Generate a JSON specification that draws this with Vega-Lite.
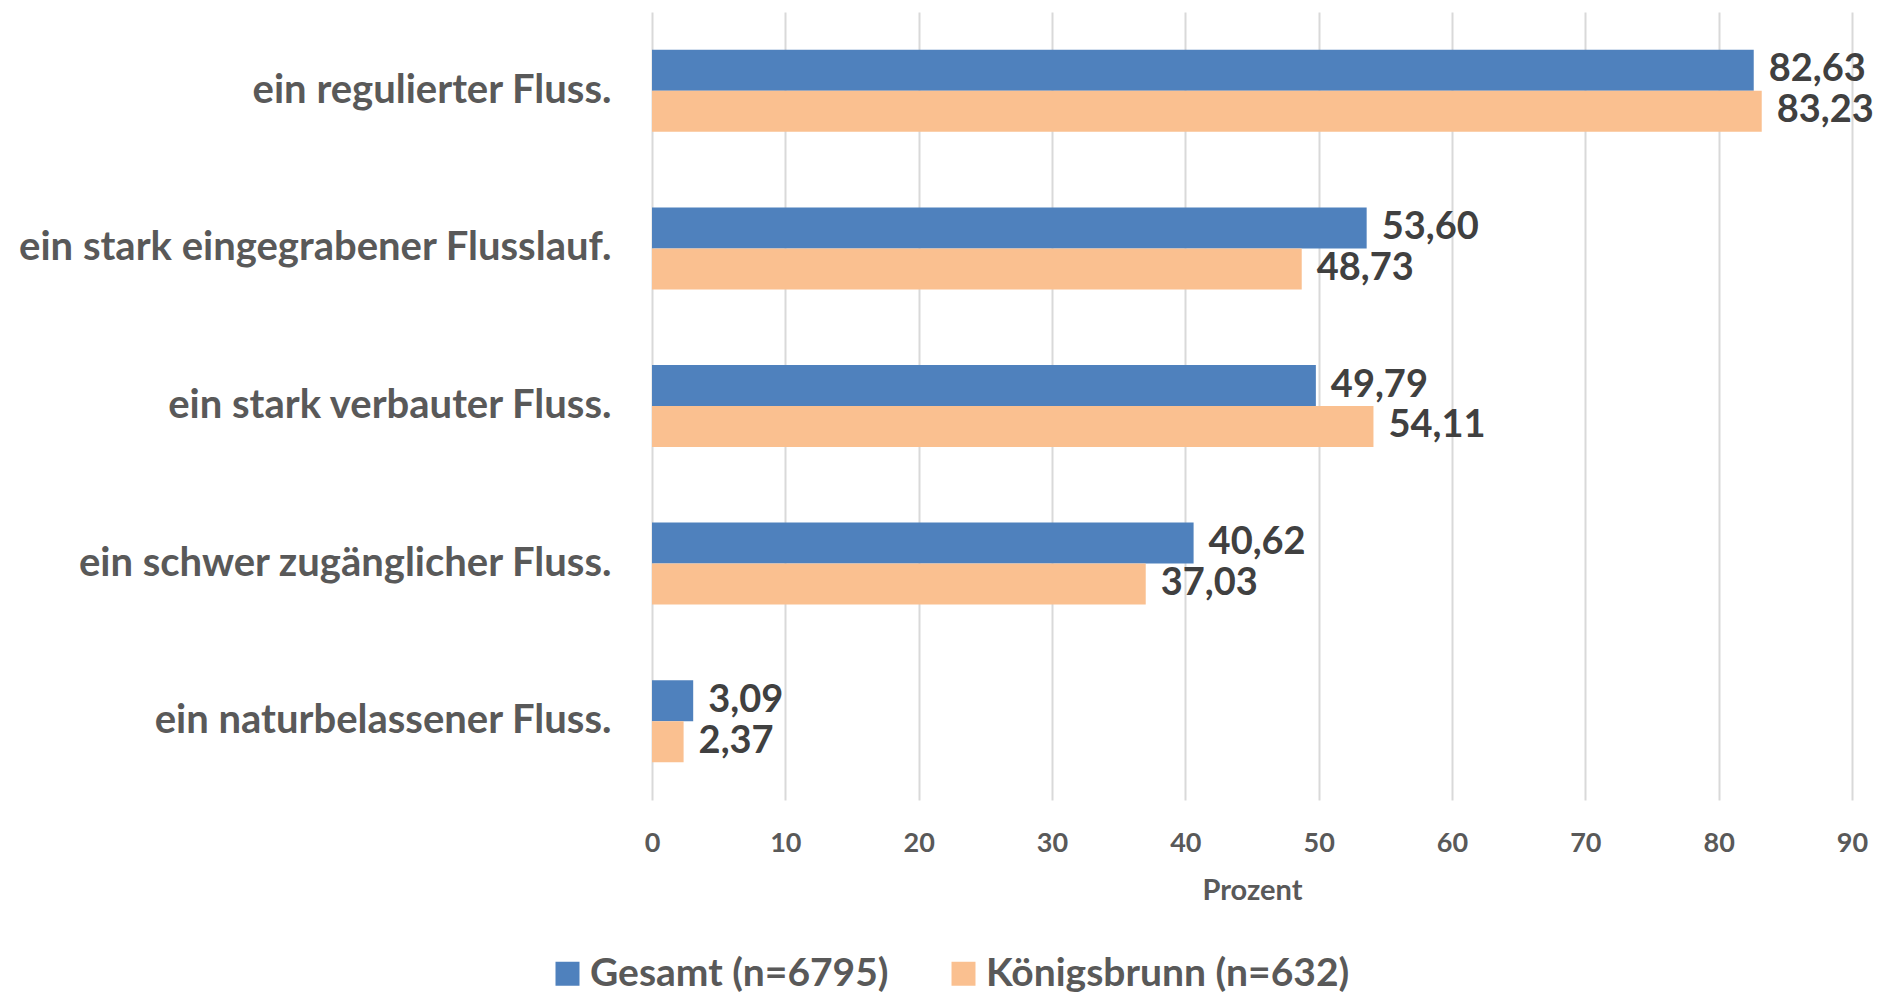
{
  "$schema": "https://vega.github.io/schema/vega-lite/v6.json",
  "width": 1200,
  "height": 788,
  "autosize": {"type": "none"},
  "padding": {"left": 652, "top": 12, "right": 36, "bottom": 196},
  "background": "white",
  "config": {
    "view": {"stroke": null},
    "font": "Lato",
    "locale": {"number": {"decimal": ",", "thousands": ".", "grouping": [3], "currency": ["", " €"]}}
  },
  "data": {
    "values": [
      {"kategorie": "ein regulierter Fluss.", "reihe": "Gesamt (n=6795)", "wert": 82.63},
      {"kategorie": "ein regulierter Fluss.", "reihe": "Königsbrunn (n=632)", "wert": 83.23},
      {"kategorie": "ein stark eingegrabener Flusslauf.", "reihe": "Gesamt (n=6795)", "wert": 53.60},
      {"kategorie": "ein stark eingegrabener Flusslauf.", "reihe": "Königsbrunn (n=632)", "wert": 48.73},
      {"kategorie": "ein stark verbauter Fluss.", "reihe": "Gesamt (n=6795)", "wert": 49.79},
      {"kategorie": "ein stark verbauter Fluss.", "reihe": "Königsbrunn (n=632)", "wert": 54.11},
      {"kategorie": "ein schwer zugänglicher Fluss.", "reihe": "Gesamt (n=6795)", "wert": 40.62},
      {"kategorie": "ein schwer zugänglicher Fluss.", "reihe": "Königsbrunn (n=632)", "wert": 37.03},
      {"kategorie": "ein naturbelassener Fluss.", "reihe": "Gesamt (n=6795)", "wert": 3.09},
      {"kategorie": "ein naturbelassener Fluss.", "reihe": "Königsbrunn (n=632)", "wert": 2.37}
    ]
  },
  "encoding": {
    "y": {
      "field": "kategorie",
      "type": "nominal",
      "sort": ["ein regulierter Fluss.", "ein stark eingegrabener Flusslauf.", "ein stark verbauter Fluss.", "ein schwer zugänglicher Fluss.", "ein naturbelassener Fluss."],
      "scale": {"paddingInner": 0.48, "paddingOuter": 0.24},
      "axis": {
        "title": null,
        "domain": false,
        "ticks": false,
        "grid": false,
        "labelFont": "Lato",
        "labelFontSize": 40,
        "labelFontWeight": "bold",
        "labelColor": "#595959",
        "labelPadding": 41,
        "labelLimit": 800
      }
    },
    "yOffset": {
      "field": "reihe",
      "type": "nominal",
      "sort": ["Gesamt (n=6795)", "Königsbrunn (n=632)"],
      "scale": {"paddingInner": 0, "paddingOuter": 0}
    },
    "x": {
      "field": "wert",
      "type": "quantitative",
      "scale": {"domain": [0, 90], "nice": false},
      "axis": {
        "values": [0, 10, 20, 30, 40, 50, 60, 70, 80, 90],
        "title": "Prozent",
        "titleFont": "Lato",
        "titleFontSize": 29,
        "titleFontWeight": "bold",
        "titleColor": "#595959",
        "titlePadding": 20,
        "domain": false,
        "ticks": false,
        "grid": true,
        "gridColor": "#d9d9d9",
        "gridWidth": 2,
        "labelFont": "Lato",
        "labelFontSize": 27,
        "labelFontWeight": "bold",
        "labelColor": "#595959",
        "labelPadding": 30,
        "labelFlush": false,
        "labelOverlap": false
      }
    }
  },
  "layer": [
    {
      "mark": {"type": "bar"},
      "encoding": {
        "color": {
          "field": "reihe",
          "type": "nominal",
          "sort": ["Gesamt (n=6795)", "Königsbrunn (n=632)"],
          "scale": {"domain": ["Gesamt (n=6795)", "Königsbrunn (n=632)"], "range": ["#4f81bd", "#fac090"]},
          "legend": {
            "title": null,
            "orient": "none",
            "direction": "horizontal",
            "legendX": -104,
            "legendY": 942,
            "symbolType": "square",
            "symbolSize": 576,
            "symbolStrokeWidth": 0,
            "symbolOpacity": 1,
            "labelFont": "Lato",
            "labelFontSize": 39,
            "labelFontWeight": "bold",
            "labelColor": "#595959",
            "labelLimit": 600,
            "labelOffset": 3,
            "columnPadding": 55
          }
        }
      }
    },
    {
      "mark": {"type": "text", "align": "left", "baseline": "middle", "dx": 15, "font": "Lato", "fontSize": 38, "fontWeight": "bold", "color": "#404040"},
      "encoding": {
        "text": {"field": "wert", "type": "quantitative", "format": ".2f"}
      }
    }
  ]
}
